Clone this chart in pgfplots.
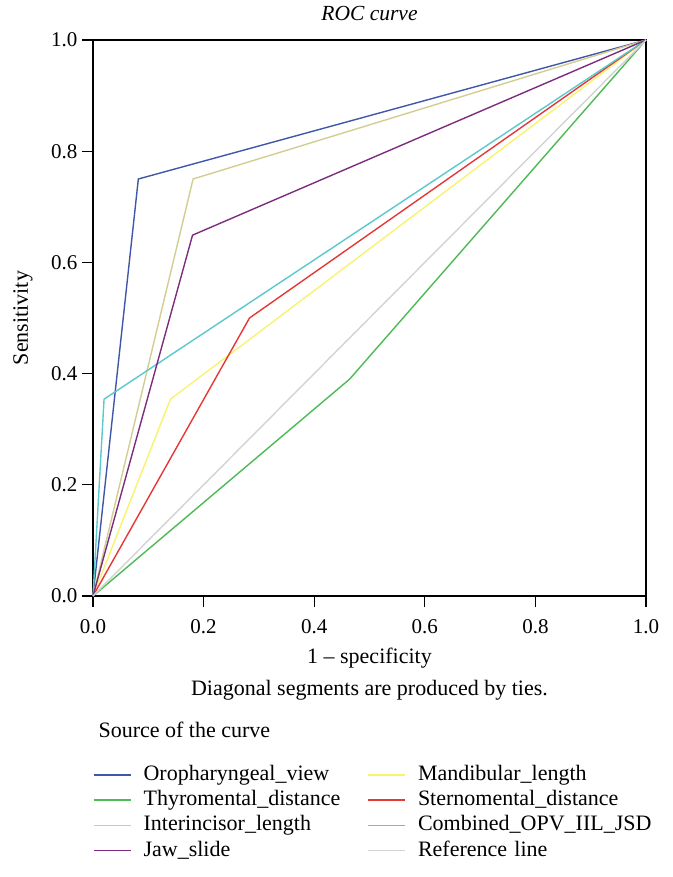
\documentclass[border=0pt]{standalone}
\usepackage{pgfplots}
\pgfplotsset{compat=1.18}
\usepackage{fontspec}
\setmainfont{Liberation Serif}
\definecolor{cOro}{RGB}{62,87,168}
\definecolor{cThy}{RGB}{77,186,85}
\definecolor{cInt}{RGB}{210,205,145}
\definecolor{cJaw}{RGB}{125,45,125}
\definecolor{cMan}{RGB}{247,243,110}
\definecolor{cSte}{RGB}{230,55,55}
\definecolor{cCom}{RGB}{90,200,205}
\definecolor{cRef}{RGB}{211,211,211}
\begin{document}
\begin{tikzpicture}[font=\fontsize{22pt}{26pt}\selectfont]
\useasboundingbox (-93pt,-281pt) rectangle (579pt,596pt);
\begin{axis}[
  at={(0pt,0pt)}, anchor=south west,
  scale only axis, width=553pt, height=556pt,
  xmin=0, xmax=1, ymin=0, ymax=1,
  xtick={0,0.2,0.4,0.6,0.8,1}, ytick={0,0.2,0.4,0.6,0.8,1},
  xtick pos=bottom, ytick pos=left,
  tick align=outside, major tick length=11pt,
  axis line style={line width=1.1pt, black},
  every tick/.style={line width=1.1pt, black},
  /pgf/number format/assume math mode=true,
  /pgf/number format/.cd, fixed, fixed zerofill, precision=1, /pgfplots/.cd,
  tick label style={font=\fontsize{21pt}{25pt}\selectfont},
  xticklabel style={anchor=center, yshift=-20pt},
  yticklabel style={anchor=east, xshift=-1pt},
  title={\textit{ROC curve}},
  title style={at={(axis description cs:0.5,1)}, anchor=base, yshift=13pt, font=\fontsize{21.5pt}{25pt}\selectfont},
  xlabel={1 – specificity},
  x label style={at={(axis description cs:0.5,-0.1115)}, anchor=center},
  ylabel={Sensitivity},
  y label style={at={(axis description cs:-0.1266,0.5)}, anchor=center, rotate=0},
  legend columns=2,
  legend cell align=left,
  legend image code/.code={\draw[line width=1.4pt,#1] (0pt,0pt) -- (37pt,0pt);},
  legend style={draw=none, fill=none, inner sep=0pt, row sep=0pt,
    column sep=0pt,
    at={(axis description cs:0,-0.2986)}, anchor=north west,
    font=\fontsize{22pt}{26pt}\selectfont,
    nodes={inner sep=2pt, text height=16pt, text depth=5.3pt, text width=222pt, align=left},
    /tikz/every odd column/.append style={column sep=10pt}},
  every axis plot/.append style={line width=1.4pt},
  clip=false,
]
\addplot[cOro] coordinates {(0,0) (0.082,0.75) (1,1)};
\addlegendentry{Oropharyngeal\_view}
\addplot[cMan] coordinates {(0,0) (0.14,0.354) (1,1)};
\addlegendentry{Mandibular\_length}
\addplot[cThy] coordinates {(0,0) (0.464,0.39) (1,1)};
\addlegendentry{Thyromental\_distance}
\addplot[cSte] coordinates {(0,0) (0.283,0.5) (1,1)};
\addlegendentry{Sternomental\_distance}
\addplot[cInt] coordinates {(0,0) (0.181,0.75) (1,1)};
\addlegendentry{Interincisor\_length}
\addplot[cCom] coordinates {(0,0) (0.02,0.354) (1,1)};
\addlegendentry{Combined\_OPV\_IIL\_JSD}
\addplot[cJaw] coordinates {(0,0) (0.18,0.649) (1,1)};
\addlegendentry{Jaw\_slide}
\addplot[cRef] coordinates {(0,0) (1,1)};
\addlegendentry{Reference line}
\node[anchor=center] at (axis description cs:0.5,-0.169) {Diagonal segments are produced by ties.};
\node[anchor=base west] at (axis description cs:0.0036,-0.2536) {Source of the curve};
\end{axis}
\end{tikzpicture}
\end{document}
